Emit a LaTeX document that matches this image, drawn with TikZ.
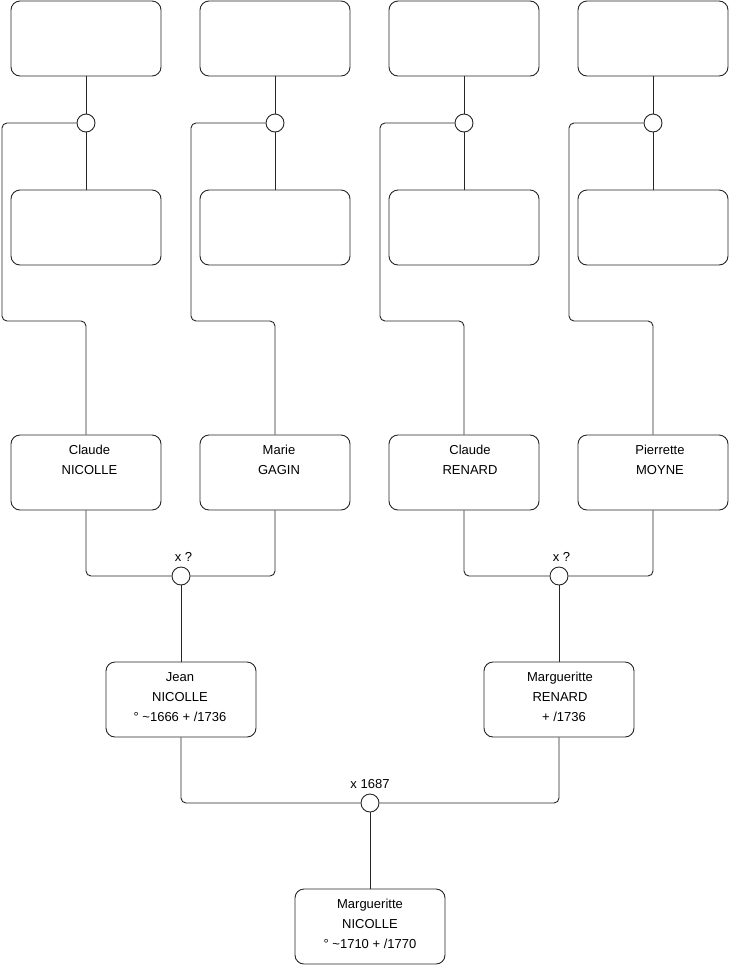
\documentclass[tikz,border=0pt]{standalone}
\usepackage{fontspec}
\setmainfont{Liberation Sans}
\usetikzlibrary{positioning}

\begin{document}
\begin{tikzpicture}[x=1pt,y=-1pt,line width=0.9pt,
    box/.style={draw=black!85,rounded corners=9pt,minimum width=150pt,minimum height=75pt,inner sep=0pt},
    txt/.style={align=center,inner sep=0pt,anchor=north,yshift=-10.5pt,font=\fontsize{13}{20}\selectfont},
    knot/.style={draw=black!85,circle,minimum size=18pt,inner sep=0pt,fill=white},
    wire/.style={draw=black!85,rounded corners=5pt},
    tag/.style={font=\fontsize{13}{15}\selectfont,inner sep=0pt}]
  \useasboundingbox (0,0) rectangle (740,975);
  % unknown ancestors
  \node[box] (t1) at (86,38.5) {};
  \node[box] (t2) at (275,38.5) {};
  \node[box] (t3) at (464,38.5) {};
  \node[box] (t4) at (653,38.5) {};
  \node[box] (s1) at (86,227.5) {};
  \node[box] (s2) at (275,227.5) {};
  \node[box] (s3) at (464,227.5) {};
  \node[box] (s4) at (653,227.5) {};
  \node[knot] (k1) at (86,123) {};
  \node[knot] (k2) at (275,123) {};
  \node[knot] (k3) at (464,123) {};
  \node[knot] (k4) at (653,123) {};
  \coordinate (r1) at (2,321);
  \coordinate (r2) at (191,321);
  \coordinate (r3) at (380,321);
  \coordinate (r4) at (569,321);
  % grandparents
  \node[box] (claudeN) at (86,472.5) {};
  \node[txt,xshift=3.5pt] at (claudeN.north) {Claude\\NICOLLE};
  \node[box] (marie) at (275,472.5) {};
  \node[txt,xshift=4pt] at (marie.north) {Marie\\GAGIN};
  \node[box] (claudeR) at (464,472.5) {};
  \node[txt,xshift=6pt] at (claudeR.north) {Claude\\RENARD};
  \node[box] (pierrette) at (653,472.5) {};
  \node[txt,xshift=7pt] at (pierrette.north) {Pierrette\\MOYNE};
  \node[knot,label={[tag,label distance=5pt,xshift=2.5pt]above:x ?}] (k5) at (181,576) {};
  \node[knot,label={[tag,label distance=5pt,xshift=2.5pt]above:x ?}] (k6) at (559,576) {};
  % parents
  \node[box] (jean) at (181,699.5) {};
  \node[txt,xshift=-1pt] at (jean.north) {Jean\\NICOLLE\\° \textasciitilde1666 + /1736};
  \node[box] (margR) at (559,699.5) {};
  \node[txt,xshift=1pt] at (margR.north) {Margueritte\\RENARD\\\hspace*{8pt}+ /1736};
  \node[knot,label={[tag,label distance=4pt]above:x 1687}] (k7) at (370,803) {};
  \node[box] (margN) at (370,926.5) {};
  \node[txt] at (margN.north) {Margueritte\\NICOLLE\\° \textasciitilde1710 + /1770};
  % connectors
  \draw[wire] (t1) -- (k1) -- (s1);
  \draw[wire] (t2) -- (k2) -- (s2);
  \draw[wire] (t3) -- (k3) -- (s3);
  \draw[wire] (t4) -- (k4) -- (s4);
  \draw[wire] (k1.west) -| (r1) -| (claudeN.north);
  \draw[wire] (k2.west) -| (r2) -| (marie.north);
  \draw[wire] (k3.west) -| (r3) -| (claudeR.north);
  \draw[wire] (k4.west) -| (r4) -| (pierrette.north);
  \draw[wire] (claudeN.south) |- (k5.west);
  \draw[wire] (marie.south) |- (k5.east);
  \draw[wire] (claudeR.south) |- (k6.west);
  \draw[wire] (pierrette.south) |- (k6.east);
  \draw[wire] (k5) -- (jean);
  \draw[wire] (k6) -- (margR);
  \draw[wire] (jean.south) |- (k7.west);
  \draw[wire] (margR.south) |- (k7.east);
  \draw[wire] (k7) -- (margN);
\end{tikzpicture}
\end{document}
